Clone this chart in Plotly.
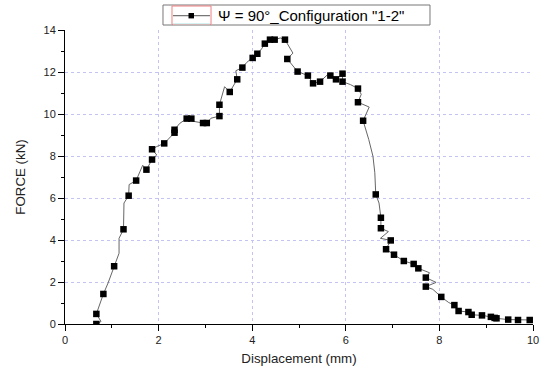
import plotly.graph_objects as go

mark_x = [0.67, 0.67, 0.82, 1.05, 1.25, 1.36, 1.52, 1.74, 1.86, 1.86, 2.12, 2.34, 2.34, 2.60, 2.70,
          2.95, 3.03, 3.30, 3.30, 3.52, 3.68, 3.79, 4.01, 4.11, 4.27, 4.38, 4.48, 4.70, 4.75, 4.97,
          5.19, 5.30, 5.45, 5.67, 5.79, 5.93, 5.93, 6.26, 6.26, 6.37, 6.64, 6.75, 6.75, 6.96, 6.86,
          7.03, 7.24, 7.45, 7.55, 7.71, 7.71, 8.04, 8.32, 8.41, 8.62, 8.69, 8.91, 9.10, 9.18, 9.22,
          9.47, 9.68, 9.93]
mark_y = [0.00, 0.48, 1.43, 2.75, 4.51, 6.11, 6.83, 7.35, 7.83, 8.32, 8.60, 9.11, 9.25, 9.78, 9.78,
          9.57, 9.57, 9.90, 10.44, 11.05, 11.65, 12.21, 12.67, 12.87, 13.35, 13.54, 13.54, 13.54, 12.62, 12.02,
          11.83, 11.46, 11.54, 11.83, 11.65, 11.92, 11.54, 11.21, 10.56, 9.68, 6.17, 5.06, 4.56, 3.98, 3.56,
          3.30, 3.00, 2.86, 2.65, 2.21, 1.78, 1.29, 0.90, 0.62, 0.57, 0.44, 0.41, 0.34, 0.29, 0.27,
          0.21, 0.19, 0.19]

# Underlying measured curve (digitized path)
line_x = [0.67, 0.77, 0.67, 0.82, 0.92, 1.05, 1.155, 1.155, 1.25, 1.26, 1.36, 1.37, 1.52, 1.60, 1.66,
          1.74, 1.86, 1.96, 1.86, 1.96, 2.12, 2.34, 2.34, 2.45, 2.60, 2.70, 2.72, 2.95, 3.03, 3.12,
          3.30, 3.30, 3.41, 3.52, 3.68, 3.65, 3.79, 3.88, 4.01, 4.11, 4.20, 4.27, 4.38, 4.48, 4.60,
          4.70, 4.87, 4.75, 4.97, 5.10, 5.19, 5.30, 5.45, 5.60, 5.67, 5.79, 5.93, 5.93, 6.10, 6.26,
          6.33, 6.26, 6.50, 6.37, 6.49, 6.58, 6.62, 6.64, 6.71, 6.75, 6.75, 6.91, 6.74, 6.96, 6.86,
          7.03, 7.24, 7.45, 7.55, 7.79, 7.71, 7.93, 7.71, 7.86, 8.04, 8.20, 8.32, 8.41, 8.62, 8.69,
          8.91, 9.10, 9.18, 9.22, 9.47, 9.68, 9.93, 10.0]
line_y = [0.00, 0.12, 0.48, 1.43, 1.95, 2.75, 3.37, 4.08, 4.51, 5.76, 6.11, 6.64, 6.83, 7.25, 7.56,
          7.35, 7.83, 8.05, 8.32, 8.45, 8.60, 9.11, 9.25, 9.55, 9.78, 9.78, 9.66, 9.57, 9.57, 9.80,
          9.90, 10.44, 11.30, 11.05, 11.65, 12.06, 12.21, 12.45, 12.67, 12.87, 13.10, 13.35, 13.54, 13.54, 13.62,
          13.54, 12.90, 12.62, 12.02, 11.90, 11.83, 11.46, 11.54, 11.85, 11.83, 11.65, 11.92, 11.54, 11.40, 11.21,
          10.94, 10.56, 10.33, 9.68, 8.79, 7.99, 7.20, 6.17, 5.76, 5.06, 4.56, 4.40, 4.08, 3.98, 3.56,
          3.30, 3.00, 2.86, 2.65, 2.44, 2.21, 1.98, 1.78, 1.65, 1.29, 1.02, 0.90, 0.62, 0.57, 0.44,
          0.41, 0.34, 0.29, 0.27, 0.21, 0.19, 0.19, 0.19]

x_ticks = [0, 2, 4, 6, 8, 10]
y_ticks = [0, 2, 4, 6, 8, 10, 12, 14]
legend_name = 'Ψ = 90°_Configuration "1-2"'

fig = go.Figure()
fig.add_trace(go.Scatter(x=line_x, y=line_y, mode="lines", name=legend_name,
                         line=dict(color="#666666", width=1), showlegend=False, hoverinfo="skip"))
fig.add_trace(go.Scatter(x=mark_x, y=mark_y, mode="markers", name=legend_name,
                         marker=dict(symbol="square", size=6.5, color="black"), showlegend=False))

axis_common = dict(showline=True, linecolor="black", linewidth=1, ticks="outside", ticklen=6,
                   tickcolor="black", tickfont=dict(family="Arial", size=11, color="#222222"),
                   showgrid=True, gridcolor="#c4c4f4", griddash="dot", gridwidth=1, zeroline=False,
                   mirror=False, ticklabeloverflow="allow", automargin=False)

fig.update_xaxes(range=[0, 10], tickvals=x_ticks, ticktext=[str(v) for v in x_ticks],
                 minor=dict(dtick=1, ticks="outside", ticklen=3, tickcolor="black", showgrid=False),
                 title=dict(text="Displacement (mm)", font=dict(family="Arial", size=13.3, color="#222222"),
                            standoff=8),
                 **axis_common)
fig.update_yaxes(range=[0, 14], tickvals=y_ticks, ticktext=[str(v) for v in y_ticks],
                 minor=dict(dtick=1, ticks="outside", ticklen=3, tickcolor="black", showgrid=False),
                 title=dict(text="FORCE (kN)", font=dict(family="Arial", size=13.3, color="#222222"),
                            standoff=14),
                 **axis_common)

# Legend box (drawn in paper coordinates, Origin-style)
shapes = [
    dict(type="rect", xref="paper", yref="paper", x0=0.2094, x1=0.7799, y0=1.017, y1=1.085,
         line=dict(color="#777777", width=1), fillcolor="white", layer="above"),
    dict(type="rect", xref="paper", yref="paper", x0=0.2286, x1=0.3120, y0=1.019, y1=1.0816,
         line=dict(color="#f08080", width=1), fillcolor="rgba(0,0,0,0)", layer="above"),
    dict(type="line", xref="paper", yref="paper", x0=0.2308, x1=0.3098, y0=1.0205, y1=1.0205,
         line=dict(color="#b0f0f0", width=1), layer="above"),
    dict(type="line", xref="paper", yref="paper", x0=0.2308, x1=0.3098, y0=1.0486, y1=1.0486,
         line=dict(color="#555555", width=1), layer="above"),
    dict(type="rect", xref="paper", yref="paper", x0=0.2639, x1=0.2756, y0=1.0394, y1=1.0578,
         line=dict(color="black", width=0), fillcolor="black", layer="above"),
]

fig.update_layout(
    width=540, height=371,
    margin=dict(l=65, r=7, t=30, b=47),
    paper_bgcolor="white", plot_bgcolor="white",
    showlegend=False,
    shapes=shapes,
    annotations=[dict(text=legend_name, xref="paper", yref="paper", x=0.3226, y=1.051,
                      xanchor="left", yanchor="middle", showarrow=False,
                      font=dict(family="Arial", size=15, color="black"))],
)

fig.write_html("out.html")
